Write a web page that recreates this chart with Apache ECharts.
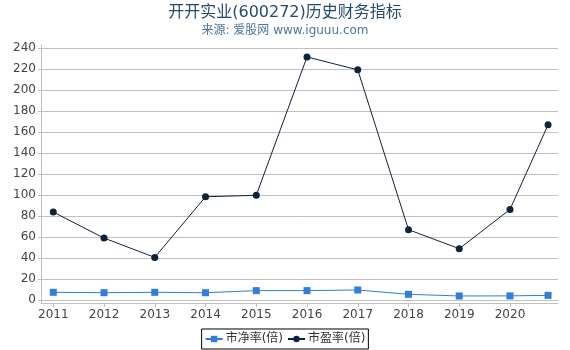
<!DOCTYPE html>
<html><head><meta charset="utf-8">
<script src="https://cdn.jsdelivr.net/npm/echarts@6/dist/echarts.min.js"></script>
<style>
html,body{margin:0;padding:0;background:#fff;}
#wrap{position:absolute;left:0;top:0;width:570px;height:350px;box-sizing:border-box;border-left:2px solid #8a8a8a;border-right:4px solid #8a8a8a;border-bottom:2px solid #8a8a8a;border-top:1px solid #d8d8d8;}
#c{position:absolute;left:-2px;top:-1px;width:570px;height:350px;}
</style></head>
<body><div id="wrap"><div id="c"></div></div>
<script>
var titleText = '开开实业(600272)历史财务指标';
var subtitleText = '来源: 爱股网 www.iguuu.com';
var xValues = [2011, 2012, 2013, 2014, 2015, 2016, 2017, 2018, 2019, 2020, 2020.75];
var xTickLabels = [2011, 2012, 2013, 2014, 2015, 2016, 2017, 2018, 2019, 2020];
var yTickLabels = [0, 20, 40, 60, 80, 100, 120, 140, 160, 180, 200, 220, 240];
var pbName = '市净率(倍)';
var peName = '市盈率(倍)';
var pbValues = [7.3, 6.9, 7.3, 6.9, 8.9, 8.9, 9.5, 5.4, 3.8, 3.9, 4.4];
var peValues = [83.8, 59.0, 40.6, 98.4, 99.8, 231.7, 219.4, 67.0, 48.9, 86.3, 167.0];

function pairs(xs, ys){ return xs.map(function(x,i){ return [x, ys[i]]; }); }

var font = "'DejaVu Sans','Noto Sans CJK SC',sans-serif";
var chart = echarts.init(document.getElementById('c'), null, {renderer:'canvas'});
chart.setOption({
  animation:false,
  backgroundColor:'#fff',
  title:{
    text:titleText, subtext:subtitleText, left:'center', top:0,
    itemGap:4,
    textStyle:{fontFamily:font, fontSize:16, fontWeight:'normal', color:'#274b6d'},
    subtextStyle:{fontFamily:font, fontSize:12, color:'#4d759e'}
  },
  grid:{left:41, right:12, top:45, bottom:47, containLabel:false},
  xAxis:{
    type:'value', min:2010.758, max:2020.946,
    axisLine:{show:true, onZero:false, lineStyle:{color:'#c0c0c0', width:1}},
    axisTick:{show:true, customValues:xTickLabels, length:4, lineStyle:{color:'#c0c0c0'}},
    axisLabel:{customValues:xTickLabels, color:'#444', fontFamily:font, fontSize:12, margin:6,
      formatter:function(v){return String(Math.round(v));}},
    splitLine:{show:false}
  },
  yAxis:{
    type:'value', min:-2.9, max:243.1,
    axisLine:{show:true, lineStyle:{color:'#c0c0c0', width:1}},
    axisTick:{show:true, customValues:yTickLabels, length:3, lineStyle:{color:'#c0c0c0'}},
    axisLabel:{customValues:yTickLabels, color:'#444', fontFamily:font, fontSize:12, margin:5,
      formatter:function(v){return String(Math.round(v));}},
    splitLine:{show:true, lineStyle:{color:'#c0c0c0', width:1}}
  },
  legend:{
    bottom:1, left:'center',
    borderColor:'#000', borderWidth:1, borderRadius:0,
    padding:[4,3,4,3], itemGap:4, itemWidth:17, itemHeight:8,
    textStyle:{fontFamily:font, fontSize:12, color:'#333', padding:[0,0,0,-2]},
    data:[pbName, peName]
  },
  series:[
    {name:pbName, type:'line', data:pairs(xValues, pbValues),
     symbol:'rect', symbolSize:7, color:'#2f7ed8',
     lineStyle:{width:1, color:'#2f7ed8'}, itemStyle:{color:'#2f7ed8'}, z:3},
    {name:peName, type:'line', data:pairs(xValues, peValues),
     symbol:'circle', symbolSize:7, color:'#0d233a',
     lineStyle:{width:1, color:'#0d233a'}, itemStyle:{color:'#0d233a'}, z:4}
  ]
});
</script>
</body></html>
